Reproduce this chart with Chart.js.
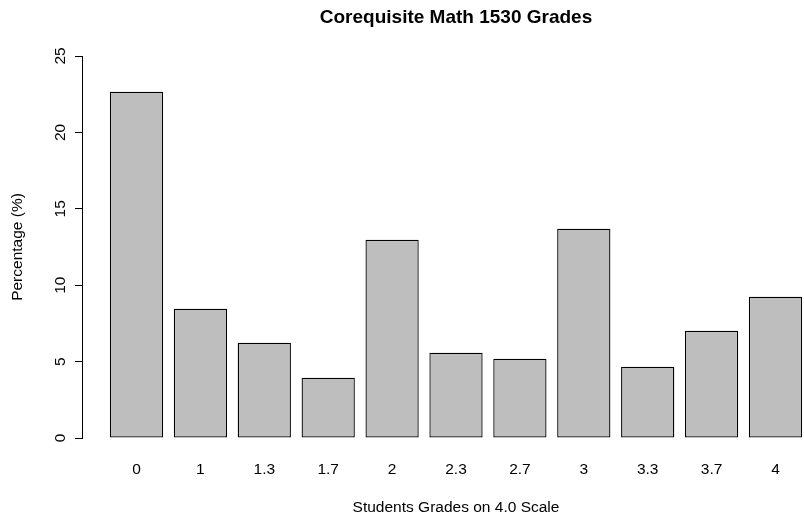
<!DOCTYPE html>
<html>
<head>
<meta charset="utf-8">
<script src="https://cdn.jsdelivr.net/npm/chart.js@4"></script>
<style>
html, body { margin: 0; padding: 0; background: #fff; overflow: hidden; }
#wrap { position: relative; width: 830px; height: 519px; }
</style>
</head>
<body>
<div id="wrap"><canvas id="gradesChart"></canvas></div>
<script>
// grades on the 4.0 scale and the share of students for each
let grades = ["0", "1", "1.3", "1.7", "2", "2.3", "2.7", "3", "3.3", "3.7", "4"];
let percents = [22.66, 8.46, 6.24, 3.95, 12.98, 5.58, 5.19, 13.70, 4.67, 7.02, 9.25];
let yTicks = [0, 5, 10, 15, 20, 25];

let chartTitle = "Corequisite Math 1530 Grades";
let xTitle = "Students Grades on 4.0 Scale";
let yTitle = "Percentage (%)";

Chart.defaults.font.family = '"Liberation Sans", Arial, sans-serif';
Chart.defaults.color = "#000";

// R puts the main title over the plot region, not the whole canvas
const mainTitle = {
    id: "mainTitle",
    afterDraw(chart) {
        const ctx = chart.ctx;
        const area = chart.chartArea;
        ctx.save();
        ctx.font = 'bold 19px "Liberation Sans", Arial, sans-serif';
        ctx.fillStyle = "#000";
        ctx.textAlign = "center";
        ctx.textBaseline = "middle";
        ctx.fillText(chartTitle, (area.left + area.right) / 2, 18);
        ctx.restore();
    }
};

let points = percents.map((v, i) => ({ x: i, y: v }));

new Chart(document.getElementById("gradesChart"), {
    type: "bar",
    data: {
        datasets: [{
            data: points,
            backgroundColor: "#bebebe",
            borderColor: "#000",
            borderWidth: 1.3,
            borderSkipped: false,
            categoryPercentage: 1,
            barPercentage: 1 / 1.2
        }]
    },
    options: {
        responsive: true,
        maintainAspectRatio: false,
        animation: false,
        layout: { padding: { top: 56, left: 0, right: 0, bottom: 0 } },
        plugins: {
            legend: { display: false },
            tooltip: { enabled: false }
        },
        scales: {
            x: {
                type: "linear",
                offset: false,
                min: -0.853,
                max: 10.853,
                afterBuildTicks: (s) => { s.ticks = grades.map((g, i) => ({ value: i })); },
                afterFit: (s) => { s.height = 81; },
                ticks: {
                    autoSkip: false,
                    maxRotation: 0,
                    padding: 22,
                    font: { size: 15.5 },
                    callback: (v) => grades[v]
                },
                grid: { display: false, drawTicks: false },
                border: { display: false },
                title: {
                    display: true,
                    text: xTitle,
                    font: { size: 15.5 },
                    padding: { top: 0, bottom: 2 }
                }
            },
            y: {
                min: 0,
                max: 25,
                afterBuildTicks: (s) => { s.ticks = yTicks.map((v) => ({ value: v })); },
                afterFit: (s) => { s.width = 82; },
                ticks: {
                    minRotation: 90,
                    maxRotation: 90,
                    crossAlign: "center",
                    padding: 6,
                    font: { size: 15.5 }
                },
                grid: {
                    drawOnChartArea: false,
                    drawTicks: true,
                    tickLength: 7,
                    color: "#000",
                    lineWidth: 1
                },
                border: { display: true, color: "#000", width: 1 },
                title: {
                    display: true,
                    text: yTitle,
                    font: { size: 15.5 },
                    padding: { top: 8, bottom: 0 }
                }
            }
        }
    },
    plugins: [mainTitle]
});
</script>
</body>
</html>
